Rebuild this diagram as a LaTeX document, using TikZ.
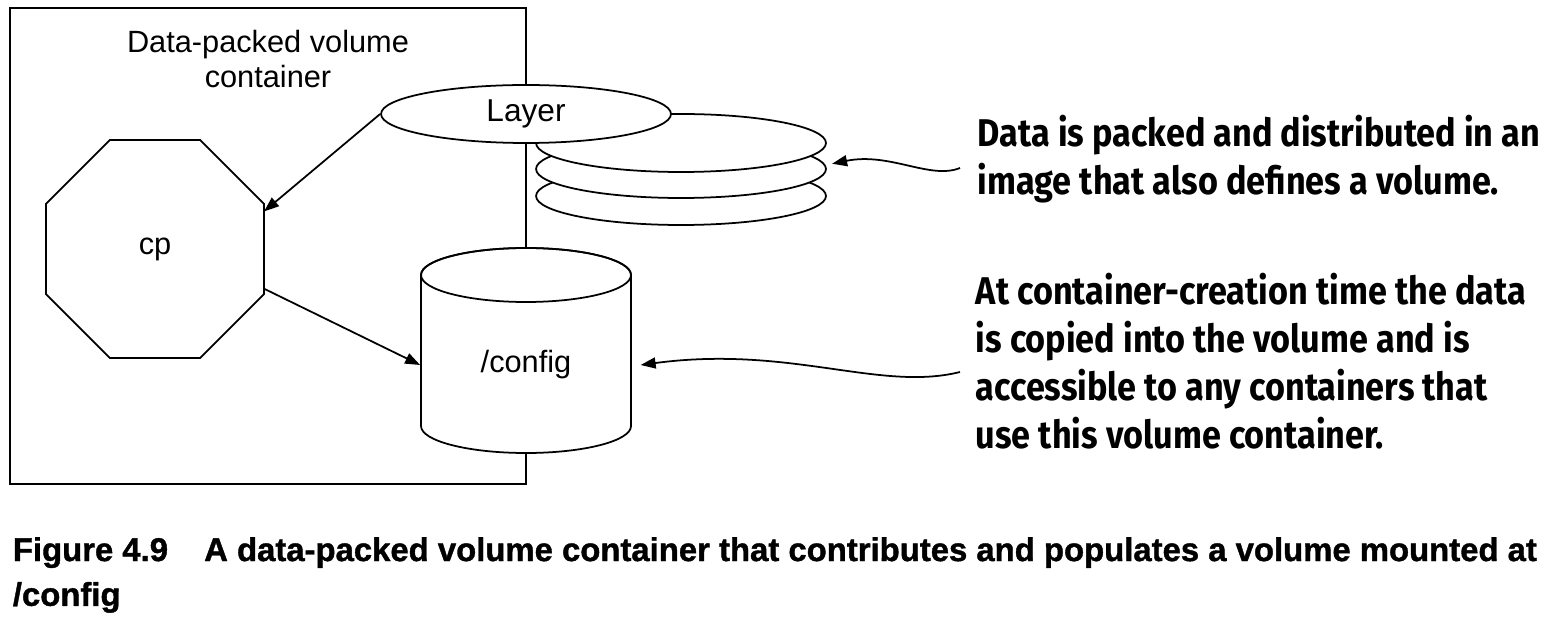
\documentclass[tikz,border=0pt]{standalone}
\usepackage{fontspec}
\setmainfont{Liberation Sans}
\newfontfamily\notefont[FakeStretch=0.885]{Fira Sans}
\newfontfamily\capfont[FakeBold=1.2]{Liberation Sans}
\usetikzlibrary{arrows.meta, positioning, shapes.geometric}

\begin{document}
\begin{tikzpicture}[x=0.02cm, y=-0.02cm, line width=1pt,
  disk/.style={draw, fill=white, ellipse, inner sep=0pt,
    minimum width=5.8cm, minimum height=1.16cm},
  arr/.style={-{Triangle[length=0.3cm, width=0.22cm]}},
  note/.style={anchor=west, align=left, inner sep=0pt,
    font=\notefont\bfseries\fontsize{22}{27.3}\selectfont}]
\useasboundingbox (0,0) rectangle (1550,624);
% Container box
\draw (10,8) rectangle (526,484);
\node[align=center, font=\fontsize{17.5}{19.5}\selectfont] (title) at (268,59)
  {Data-packed volume\\container};
% Image layers
\node[disk] (s3) at (681,196) {};
\node[disk] (s2) at (681,169) {};
\node[disk] (s1) at (681,143) {};
\node[disk, font=\fontsize{18}{20}\selectfont] (layer) at (526,114) {Layer};
% cp process
\node[draw, fill=white, regular polygon, regular polygon sides=8,
  minimum size=4.72cm, inner sep=0pt, outer sep=0pt,
  font=\fontsize{17.5}{20}\selectfont] (cp) at (155,249) {cp};
% Volume
\filldraw[fill=white] (421,275) -- (421,426)
  arc[start angle=180, end angle=0, x radius=105, y radius=27] -- (631,275)
  arc[start angle=0, end angle=-180, x radius=105, y radius=27] -- cycle;
\draw (526,275) ellipse [x radius=105, y radius=27];
\node[minimum width=4.2cm, inner sep=0pt, font=\fontsize{17.5}{20}\selectfont]
  (config) at (526,365) {/config};
% Copy arrows
\draw[arr] (layer.west) -- (cp.19);
\draw[arr] (cp.-20) -- (config.west);
% Notes
\node[note] (n1) at (977,159)
  {Data is packed and distributed in an\\image that also defines a volume.};
\node[note] (n2) at (975,361)
  {At container-creation time the data\\is copied into the volume and is\\
   accessible to any containers that\\use this volume container.};
\coordinate (c1) at (960,168);
\coordinate (c2) at (960,372);
\draw[arr] (c1) .. controls (930,180) and (890,152) .. ([shift={(3pt,3pt)}]s2.east);
\draw[arr] (c2) .. controls (880,392) and (790,345) .. ([xshift=5pt]config.east);
% Caption
\node[anchor=west, align=left, inner sep=0pt,
  font=\capfont\bfseries\fontsize{18.7}{25.5}\selectfont]
  (caption) at (12,575) {Figure 4.9\hspace{1.1em}A data-packed volume container
  that contributes and populates a volume mounted at\\/config};
\end{tikzpicture}
\end{document}
